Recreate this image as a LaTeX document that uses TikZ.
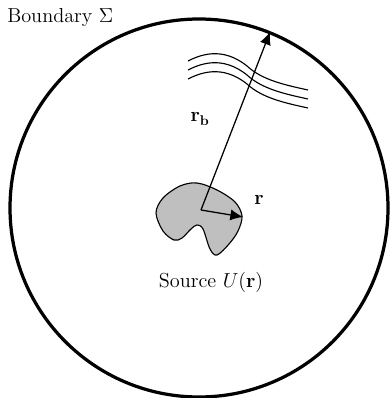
\documentclass[tikz,border=0pt]{standalone}
\usepackage{amsmath, amssymb}
\usepackage{tikz}
\usetikzlibrary{arrows.meta, positioning, calc}

\begin{document}
\begin{tikzpicture}[x=0.025cm, y=-0.025cm, >={Latex[length=9pt, width=8pt]}]
  \useasboundingbox (0,0) rectangle (390,398);

  % boundary
  \draw[line width=2.3pt] (199,208) circle (189);
  \node[anchor=base west, font=\Large, inner sep=0pt] (bnd) at (7,23)
    {Boundary $\Sigma$};

  % wavefronts
  \foreach \d in {0,9,18}
    \draw[thick] (188,61+\d) .. controls (200,55+\d) and (222,46+\d) .. (247,66+\d)
      .. controls (262,80+\d) and (285,85+\d) .. (308,90+\d);

  % source region
  \draw[thick, fill=gray!50] plot[smooth cycle, tension=0.55] coordinates {
    (156,213) (163,198) (180,186) (197,183) (217,190) (235,202) (242,216)
    (238,231) (229,244) (217,255) (210,249) (203,229) (197,225) (191,229)
    (182,238) (174,240) (163,231)};
  \node[anchor=base, font=\Large, inner sep=0pt] (src) at (211,287)
    {Source $U(\mathbf{r})$};

  % position vectors
  \coordinate (o) at (201,210);
  \coordinate (rtip) at (243,217);
  \coordinate (rbtip) at (270,32);
  \draw[->, line width=0.9pt] (o) -- (rbtip);
  \draw[->, line width=0.9pt] (o) -- (rtip);
  \node[font=\Large] (rlab) at (259,200) {$\mathbf{r}$};
  \node[font=\Large] (rblab) at (200,119) {$\mathbf{r}_{\mathbf{b}}$};
\end{tikzpicture}
\end{document}
